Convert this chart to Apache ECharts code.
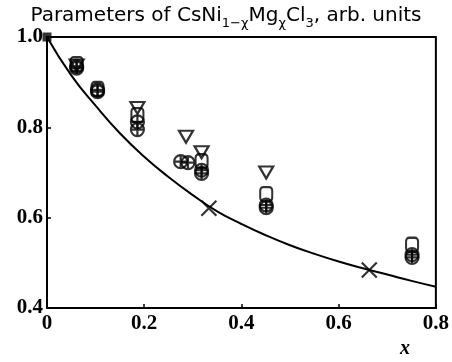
<!DOCTYPE html>
<html><head><meta charset="utf-8">
<script src="https://cdn.jsdelivr.net/npm/echarts@6/dist/echarts.min.js"></script>
<style>html,body{margin:0;padding:0;background:#fff}#c{width:452px;height:362px}</style>
</head><body><div id="c"></div>
<script>
// Tick labels
const xTicks = [0, 0.2, 0.4, 0.6, 0.8];
const yTicks = [0.4, 0.6, 0.8, 1.0];
// Fit curve
const curveX = [0, 0.05, 0.1, 0.15, 0.2, 0.25, 0.3, 0.35, 0.4, 0.45, 0.5, 0.55, 0.6, 0.65, 0.7, 0.75, 0.8];
const curveY = [1.0, 0.915, 0.848, 0.787, 0.735, 0.690, 0.650, 0.614, 0.586, 0.561, 0.539, 0.520, 0.503, 0.488, 0.474, 0.460, 0.447];
// Circle-cross markers (two sets)
const circAX = [0.061, 0.104, 0.186, 0.275, 0.318, 0.451, 0.751];
const circAY = [0.931, 0.879, 0.812, 0.724, 0.705, 0.628, 0.518];
const circBX = [0.061, 0.104, 0.186, 0.290, 0.318, 0.451, 0.751];
const circBY = [0.935, 0.883, 0.795, 0.722, 0.698, 0.622, 0.512];
// Square markers
const sqX = [0.061, 0.104, 0.186, 0.318, 0.451, 0.751];
const sqY = [0.940, 0.885, 0.827, 0.725, 0.652, 0.540];
// Down-triangle markers
const triX = [0.061, 0.186, 0.286, 0.318, 0.451];
const triY = [0.937, 0.843, 0.779, 0.745, 0.700];
// Cross markers
const crossX = [0.333, 0.663];
const crossY = [0.621, 0.484];
// Filled square
const fillX = [0];
const fillY = [1.0];

const zip = (a, b) => a.map((v, i) => [v, b[i]]);
const circlePath = 'path://M0,10 A10,10 0 1,1 20,10 A10,10 0 1,1 0,10 Z M10,0 L10,20 M0,10 L20,10';
const crossPath = 'path://M0,0 L10,10 M10,0 L0,10';
const hollow = {color: 'rgba(0,0,0,0)', borderColor: '#000', borderWidth: 2.2};

const chart = echarts.init(document.getElementById('c'));
chart.setOption({
  animation: false,
  title: {
    text: '{t|Parameters of CsNi}{s|1−χ}{t|Mg}{s|χ}{t|Cl}{s|3}{t|, arb. units}',
    left: 'center', top: 1,
    textStyle: {
      fontWeight: 'normal',
      rich: {
        t: {fontFamily: 'DejaVu Sans', fontWeight: 'normal', fontSize: 20, color: '#000', lineHeight: 24, verticalAlign: 'top'},
        s: {fontFamily: 'DejaVu Sans', fontWeight: 'normal', fontSize: 13, color: '#000', lineHeight: 12, verticalAlign: 'bottom'}
      }
    }
  },
  grid: {left: 47, right: 13, top: 37, bottom: 54, show: true, borderColor: '#000', borderWidth: 2},
  xAxis: {
    type: 'value', min: 0, max: 0.8, interval: 0.2,
    axisLine: {show: true, lineStyle: {color: '#000', width: 2}},
    axisTick: {show: true, inside: true, length: 4, lineStyle: {color: '#000', width: 1.5}},
    splitLine: {show: false},
    axisLabel: {fontFamily: 'Liberation Serif', fontWeight: 'bold', fontSize: 21, color: '#000', margin: 5,
      formatter: v => xTicks.includes(+v.toFixed(1)) ? (v === 0 ? '0' : v.toFixed(1)) : ''}
  },
  yAxis: {
    type: 'value', min: 0.4, max: 1.0, interval: 0.2,
    axisLine: {show: true, lineStyle: {color: '#000', width: 2}},
    axisTick: {show: true, inside: true, length: 4, lineStyle: {color: '#000', width: 1.5}},
    splitLine: {show: false},
    axisLabel: {fontFamily: 'Liberation Serif', fontWeight: 'bold', fontSize: 21, color: '#000', margin: 4,
      formatter: v => yTicks.includes(+v.toFixed(1)) ? v.toFixed(1) : ''}
  },
  graphic: [{type: 'text', left: 400, top: 339,
    style: {text: 'x', font: 'italic bold 20px "Liberation Serif"', fill: '#000'}}],
  series: [
    {type: 'line', data: zip(curveX, curveY), smooth: true, showSymbol: false, symbol: 'none',
     lineStyle: {color: '#000', width: 2}, z: 1},
    {type: 'scatter', data: zip(circAX, circAY), symbol: circlePath, symbolSize: 13, itemStyle: hollow, z: 3},
    {type: 'scatter', data: zip(circBX, circBY), symbol: circlePath, symbolSize: 13, itemStyle: hollow, z: 3},
    {type: 'scatter', data: zip(sqX, sqY), symbol: 'roundRect', symbolSize: [12, 14], itemStyle: hollow, z: 3},
    {type: 'scatter', data: zip(triX, triY), symbol: 'triangle', symbolRotate: 180, symbolSize: [14, 12], itemStyle: hollow, z: 3},
    {type: 'scatter', data: zip(crossX, crossY), symbol: crossPath, symbolSize: 15, itemStyle: hollow, z: 3},
    {type: 'scatter', data: zip(fillX, fillY), symbol: 'rect', symbolSize: 9, itemStyle: {color: '#000'}, z: 3, clip: false}
  ]
});
</script></body></html>
